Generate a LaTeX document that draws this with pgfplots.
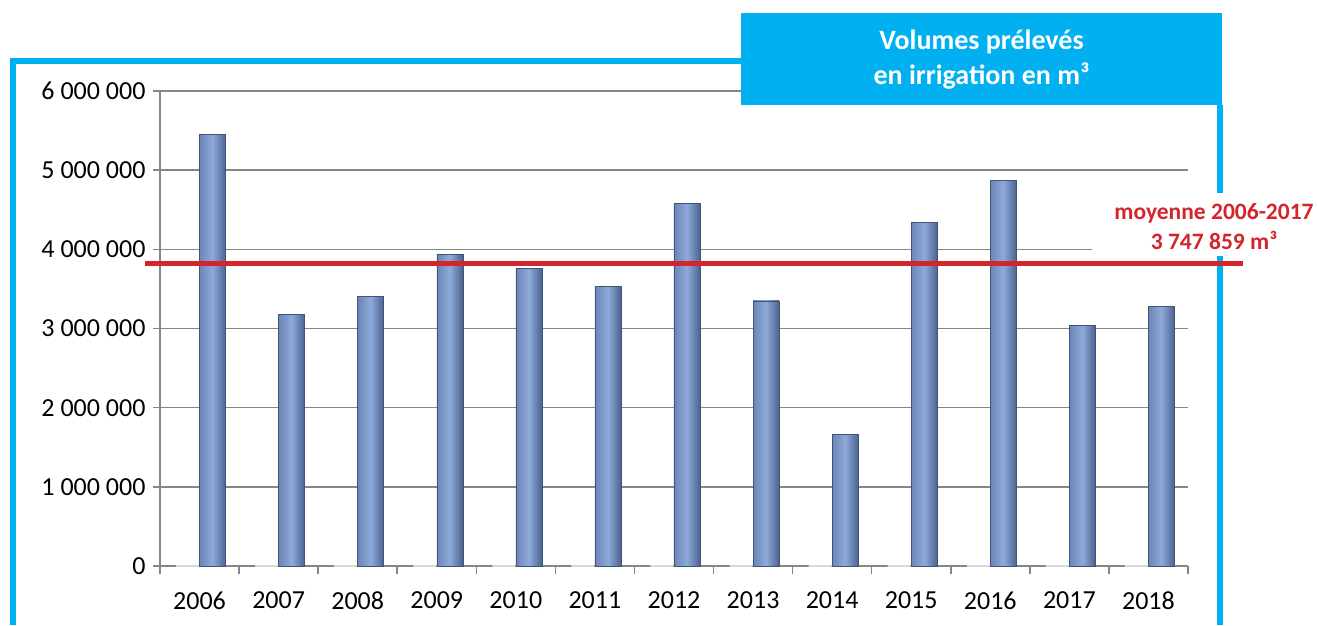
\documentclass[border=0pt]{standalone}
\usepackage{pgfplots}
\pgfplotsset{compat=1.18}
\usepackage{fontspec}
\setmainfont{Carlito}
\definecolor{framecyan}{RGB}{0,176,240}
\definecolor{avgred}{RGB}{212,36,44}
\definecolor{gridgray}{RGB}{134,134,134}
\definecolor{barL}{RGB}{108,134,182}
\definecolor{barM}{RGB}{141,170,218}
\definecolor{barR}{RGB}{76,98,142}
\pgfplotsset{
  valbar/.style={ybar, bar width=26pt, bar shift=13pt, draw=barR!85!black, line width=0.5pt,
    left color=barL, right color=barR, middle color=barM, forget plot},
}
\begin{document}
\begin{tikzpicture}[x=1pt,y=1pt]
\useasboundingbox (0,0) rectangle (1317,625);
% frame
\draw[framecyan, line width=6pt] (13,0) -- (13,564) -- (745,564);
\draw[framecyan, line width=6pt] (1220,520) -- (1220,0);
\begin{axis}[
  at={(160pt,59pt)}, anchor=south west,
  scale only axis, width=1028pt, height=475pt,
  xmin=-0.5, xmax=12.5, ymin=0, ymax=6000000,
  scaled y ticks=false,
  clip=false,
  axis x line*=bottom, axis y line*=left,
  axis line style={gridgray, line width=1.5pt},
  tick align=outside,
  major tick length=7pt,
  tick style={gridgray, line width=1.5pt},
  ymajorgrids,
  major grid style={gridgray, line width=1.5pt},
  ytick={0,1000000,2000000,3000000,4000000,5000000,6000000},
  yticklabels={0,1 000 000,2 000 000,3 000 000,4 000 000,5 000 000,6 000 000},
  xtick={0,...,12},
  xticklabels={2006,2007,2008,2009,2010,2011,2012,2013,2014,2015,2016,2017,2018},
  xtick style={draw=none},
  extra x ticks={-0.5,0.5,1.5,2.5,3.5,4.5,5.5,6.5,7.5,8.5,9.5,10.5,11.5,12.5},
  extra x tick labels={},
  extra x tick style={xtick style={draw=gridgray, line width=1.5pt}, major tick length=8pt},
  ticklabel style={font=\fontsize{26}{30}\selectfont, text=black},
  xticklabel style={yshift=-15pt},
  yticklabel style={xshift=-4pt},
  /pgf/number format/assume math mode=true,
]
\addplot[ybar, bar width=23pt, bar shift=-12pt, draw=gray!30, line width=2.5pt, fill=none, forget plot] coordinates {
(0,0) (1,0) (2,0) (3,0) (4,0) (5,0) (6,0) (7,0) (8,0) (9,0) (10,0) (11,0) (12,0)};
\addplot[valbar] coordinates {(0,5455000)};
\addplot[valbar] coordinates {(1,3174000)};
\addplot[valbar] coordinates {(2,3407000)};
\addplot[valbar] coordinates {(3,3940000)};
\addplot[valbar] coordinates {(4,3762000)};
\addplot[valbar] coordinates {(5,3534000)};
\addplot[valbar] coordinates {(6,4580000)};
\addplot[valbar] coordinates {(7,3350000)};
\addplot[valbar] coordinates {(8,1660000)};
\addplot[valbar] coordinates {(9,4345000)};
\addplot[valbar] coordinates {(10,4874000)};
\addplot[valbar] coordinates {(11,3040000)};
\addplot[valbar] coordinates {(12,3280000)};
\addplot[avgred, line width=5pt, forget plot] coordinates {(-0.69,3826000) (13.19,3826000)};
\end{axis}
% white area behind average label
\fill[white] (1092,369) rectangle (1317,432);
\node[text=avgred, font=\fontsize{23.5}{28}\selectfont\bfseries] at (1214,412) {moyenne 2006-2017};
\node[text=avgred, font=\fontsize{23.5}{28}\selectfont\bfseries] at (1214,385) {3 747 859 m³};
% title box
\fill[framecyan] (741,520) rectangle (1222,612);
\node[text=white, font=\fontsize{28}{32}\selectfont\bfseries] at (981.5,583) {Volumes prélevés};
\node[text=white, font=\fontsize{28}{32}\selectfont\bfseries] at (981.5,549) {en irrigation en m³};
\end{tikzpicture}
\end{document}
